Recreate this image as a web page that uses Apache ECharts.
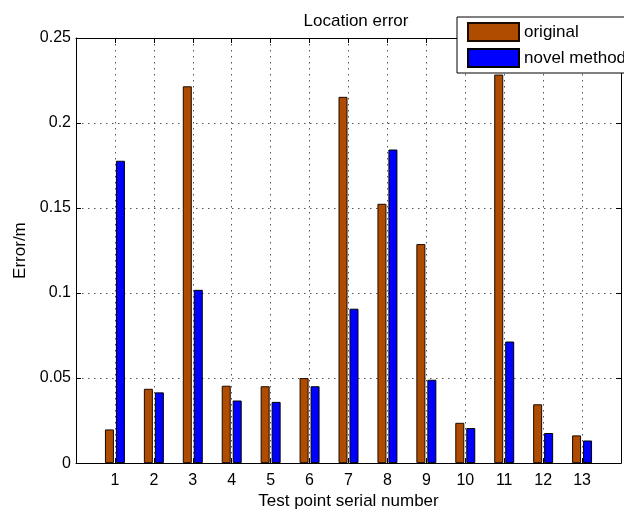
<!DOCTYPE html>
<html>
<head>
<meta charset="utf-8">
<script src="https://cdn.jsdelivr.net/npm/echarts@6/dist/echarts.min.js"></script>
<style>
html,body{margin:0;padding:0;background:#fff;}
#chart{width:624px;height:515px;}
</style>
</head>
<body>
<div id="chart"></div>
<script>
const categories = [1, 2, 3, 4, 5, 6, 7, 8, 9, 10, 11, 12, 13];
const originalValues = [0.0198, 0.0437, 0.2216, 0.0455, 0.0452, 0.0500, 0.2154, 0.1525, 0.1288, 0.0237, 0.2285, 0.0346, 0.0163];
const novelValues = [0.1778, 0.0416, 0.1019, 0.0368, 0.0360, 0.0452, 0.0908, 0.1844, 0.0490, 0.0206, 0.0715, 0.0177, 0.0133];
const yTicks = [0, 0.05, 0.1, 0.15, 0.2, 0.25];

const FONT = '"Liberation Sans", Arial, Helvetica, sans-serif';
const chart = echarts.init(document.getElementById('chart'), null, {renderer: 'canvas'});

const gridStyle = {show: true, lineStyle: {color: '#555', width: 1, type: [1.5, 4.5]}};

const option = {
  animation: false,
  backgroundColor: '#fff',
  textStyle: {fontFamily: FONT},
  title: {
    text: 'Location error',
    left: 351, top: 8, textAlign: 'center',
    textStyle: {fontFamily: FONT, fontSize: 17, fontWeight: 'normal', color: '#000'}
  },
  legend: {
    left: 457, top: 17,
    orient: 'vertical',
    padding: [5, 10, 5, 10],
    itemGap: 6,
    itemWidth: 51, itemHeight: 18,
    icon: 'rect',
    backgroundColor: '#fff',
    borderColor: '#000', borderWidth: 1,
    textStyle: {fontFamily: FONT, fontSize: 17, lineHeight: 18, color: '#000', padding: [0, 0, 0, 0]},
    data: ['original', 'novel method']
  },
  grid: {left: 76, top: 38, width: 549, height: 432, containLabel: false},
  xAxis: [{
    type: 'value', min: 0, max: 14, interval: 1, position: 'bottom',
    axisLine: {show: true, onZero: false, lineStyle: {color: '#000', width: 1}},
    axisTick: {show: true, inside: true, length: 5, lineStyle: {color: '#000'}},
    axisLabel: {
      margin: 9, color: '#000', fontSize: 16, fontFamily: FONT,
      formatter: function (v) { return categories.indexOf(v) >= 0 ? String(v) : ''; }
    },
    splitLine: gridStyle,
    name: 'Test point serial number', nameLocation: 'middle', nameGap: 27,
    nameTextStyle: {fontFamily: FONT, fontSize: 17, color: '#000'}
  }, {
    type: 'value', min: 0, max: 14, interval: 1, position: 'top',
    axisLine: {show: true, onZero: false, lineStyle: {color: '#000', width: 1}},
    axisTick: {show: true, inside: true, length: 5, lineStyle: {color: '#000'}},
    axisLabel: {show: false},
    splitLine: {show: false}
  }],
  yAxis: [{
    type: 'value', min: 0, max: 0.25, interval: 0.05, position: 'left',
    axisLine: {show: true, onZero: false, lineStyle: {color: '#000', width: 1}},
    axisTick: {show: true, inside: true, length: 5, lineStyle: {color: '#000'}},
    axisLabel: {
      margin: 5, color: '#000', fontSize: 16, fontFamily: FONT,
      formatter: function (v) {
        for (const t of yTicks) { if (Math.abs(t - v) < 1e-9) return String(t); }
        return '';
      }
    },
    splitLine: gridStyle,
    name: 'Error/m', nameLocation: 'middle', nameGap: 47, nameRotate: 90,
    nameTextStyle: {fontFamily: FONT, fontSize: 17, color: '#000'}
  }, {
    type: 'value', min: 0, max: 0.25, interval: 0.05, position: 'right',
    axisLine: {show: true, onZero: false, lineStyle: {color: '#000', width: 1}},
    axisTick: {show: true, inside: true, length: 5, lineStyle: {color: '#000'}},
    axisLabel: {show: false},
    splitLine: {show: false}
  }],
  series: [{
    name: 'original', type: 'bar', xAxisIndex: 0, yAxisIndex: 0,
    barWidth: 9, barGap: '22%',
    itemStyle: {color: '#b04c00', borderColor: '#1a0a00', borderWidth: 1},
    data: categories.map((c, i) => [c, originalValues[i]])
  }, {
    name: 'novel method', type: 'bar', xAxisIndex: 0, yAxisIndex: 0,
    barWidth: 9, barGap: '22%',
    itemStyle: {color: '#0000ff', borderColor: '#000', borderWidth: 1},
    data: categories.map((c, i) => [c, novelValues[i]])
  }]
};
chart.setOption(option);
</script>
</body>
</html>
